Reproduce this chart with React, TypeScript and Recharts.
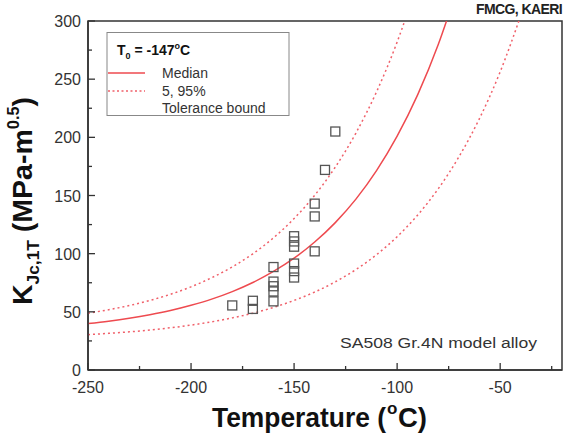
import React from "react";
import {
  ComposedChart,
  Line,
  Scatter,
  XAxis,
  YAxis,
  ReferenceArea,
  Customized,
} from "recharts";

// Master-curve lines (T in °C, K in MPa·m^0.5)
const medianTemps = [-250, -240, -230, -220, -210, -200, -190, -180, -170, -160, -150, -140, -130, -120, -110, -100, -90, -80, -70];
const medianK = [39.9, 42.0, 44.5, 47.5, 51.1, 55.6, 60.9, 67.4, 75.2, 84.7, 96.1, 110.0, 126.7, 146.9, 171.4, 201.0, 236.7, 280.0, 332.3];

const upperTemps = [-250, -240, -230, -220, -210, -200, -190, -180, -170, -160, -150, -140, -130, -120, -110, -100, -90];
const upperK = [48.8, 51.8, 55.4, 59.8, 65.1, 71.5, 79.3, 88.6, 99.9, 113.6, 130.2, 150.2, 174.4, 203.7, 239.1, 281.9, 333.7];

const lowerTemps = [-250, -240, -230, -220, -210, -200, -190, -180, -170, -160, -150, -140, -130, -120, -110, -100, -90, -80, -70, -60, -50, -40];
const lowerK = [30.4, 31.5, 32.8, 34.3, 36.3, 38.6, 41.4, 44.8, 48.8, 53.8, 59.8, 67.0, 75.8, 86.3, 99.1, 114.6, 133.3, 155.9, 183.3, 216.3, 256.3, 304.7];

// Test data points
const testTemps = [-130, -135, -140, -140, -140, -150, -150, -150, -150, -150, -150, -160, -160, -160, -160, -160, -170, -170, -180];
const testK = [205, 172, 143, 132, 102, 115, 110.5, 106, 91.5, 85, 79.5, 88.5, 76, 72, 67.5, 59, 59.5, 52.5, 55.5];

const xTicks = [-250, -225, -200, -175, -150, -125, -100, -75, -50, -25];
const xLabeled = [-250, -200, -150, -100, -50];
const yTicks = [0, 25, 50, 75, 100, 125, 150, 175, 200, 225, 250, 275, 300];
const yLabeled = [0, 50, 100, 150, 200, 250, 300];

const toPts = (ts: number[], ks: number[]) => ts.map((T, i) => ({ T, K: ks[i] }));
const medianData = toPts(medianTemps, medianK);
const upperData = toPts(upperTemps, upperK);
const lowerData = toPts(lowerTemps, lowerK);
const testData = toPts(testTemps, testK);

const FONT = "'Liberation Sans', Arial, sans-serif";
const AXIS = "#333";
const RED = "#ee4a4f";
const RED_DOT = "#f0606a";

const XTick = (props: any) => {
  const { x, y, payload } = props;
  const major = xLabeled.includes(payload.value);
  return (
    <g>
      <line x1={x} x2={x} y1={y} y2={y - (major ? 7 : 4)} stroke={AXIS} strokeWidth={1.3} />
      {major && (
        <text x={x} y={y + 23} textAnchor="middle" fontFamily={FONT} fontSize={16} fill="#333">
          {payload.value}
        </text>
      )}
    </g>
  );
};

const YTick = (props: any) => {
  const { x, y, payload } = props;
  const major = yLabeled.includes(payload.value);
  return (
    <g>
      <line x1={x} x2={x + (major ? 7 : 4)} y1={y} y2={y} stroke={AXIS} strokeWidth={1.3} />
      {major && (
        <text x={x - 7} y={y + 6} textAnchor="end" fontFamily={FONT} fontSize={16} fill="#333">
          {payload.value}
        </text>
      )}
    </g>
  );
};

const Square = (props: any) => {
  const { cx, cy } = props;
  return <rect x={cx - 4.5} y={cy - 4.5} width={9} height={9} fill="none" stroke="#555" strokeWidth={1.3} />;
};

const Annotations = () => (
  <g fontFamily={FONT}>
    {/* legend box */}
    <rect x={107} y={32.5} width={182} height={83} fill="#fff" stroke="#888" strokeWidth={1} />
    <text x={117} y={55} fontSize={14} fontWeight="bold" fill="#111">
      T<tspan fontSize={9} dy={4}>0</tspan>
      <tspan dy={-4}> = -147</tspan>
      <tspan fontSize={9} dy={-6}>o</tspan>
      <tspan dy={6}>C</tspan>
    </text>
    <line x1={108} x2={145} y1={73} y2={73} stroke={RED} strokeWidth={1.5} />
    <line x1={108} x2={145} y1={91} y2={91} stroke={RED_DOT} strokeWidth={1.5} strokeDasharray="2 2.5" />
    <text x={162} y={78} fontSize={14} fill="#333">Median</text>
    <text x={162} y={96} fontSize={14} fill="#333">5, 95%</text>
    <text x={162} y={113} fontSize={14} fill="#333">Tolerance bound</text>

    <text x={562} y={14} textAnchor="end" fontSize={14} fontWeight="bold" fill="#222" letterSpacing={-0.6}>
      FMCG, KAERI
    </text>
    <text x={340} y={348} fontSize={14} fill="#333" textLength={197} lengthAdjust="spacingAndGlyphs">
      SA508 Gr.4N model alloy
    </text>

    {/* x title */}
    <text x={212} y={427} fontSize={28} fontWeight="bold" fill="#111" textLength={174} lengthAdjust="spacingAndGlyphs">
      Temperature (
    </text>
    <text x={387} y={414} fontSize={17} fontWeight="bold" fill="#111">o</text>
    <text x={398} y={427} fontSize={28} fontWeight="bold" fill="#111" textLength={29} lengthAdjust="spacingAndGlyphs">
      C)
    </text>

    {/* y title */}
    <text
      transform="translate(32,305) rotate(-90)"
      x={0}
      y={0}
      fontSize={28}
      fontWeight="bold"
      fill="#111"
      textLength={208}
      lengthAdjust="spacingAndGlyphs"
    >
      K<tspan fontSize={17} dy={7}>Jc,1T</tspan>
      <tspan dy={-7}> (MPa-m</tspan>
      <tspan fontSize={16} dy={-13}>0.5</tspan>
      <tspan dy={13}>)</tspan>
    </text>
  </g>
);

export default function App() {
  return (
    <div style={{ position: "absolute", left: 0, top: 0, width: 574, height: 440, background: "#fff" }}>
      <ComposedChart width={574} height={440} margin={{ top: 21, right: 12, left: 0, bottom: 0 }}>
        <XAxis
          type="number"
          dataKey="T"
          domain={[-250, -20]}
          ticks={xTicks}
          interval={0}
          tick={<XTick />}
          tickLine={false}
          tickSize={0}
          tickMargin={0}
          height={70}
          axisLine={{ stroke: AXIS, strokeWidth: 1.5 }}
          allowDataOverflow
        />
        <YAxis
          type="number"
          dataKey="K"
          domain={[0, 300]}
          ticks={yTicks}
          interval={0}
          tick={<YTick />}
          tickLine={false}
          tickSize={0}
          tickMargin={0}
          width={88}
          axisLine={{ stroke: AXIS, strokeWidth: 1.5 }}
          allowDataOverflow
        />
        <ReferenceArea x1={-250} x2={-20} y1={0} y2={300} fill="none" stroke={AXIS} strokeWidth={1.5} />
        <Line data={upperData} dataKey="K" type="monotone" stroke={RED_DOT} strokeWidth={1.5} strokeDasharray="2 3" dot={false} isAnimationActive={false} />
        <Line data={lowerData} dataKey="K" type="monotone" stroke={RED_DOT} strokeWidth={1.5} strokeDasharray="2 3" dot={false} isAnimationActive={false} />
        <Line data={medianData} dataKey="K" type="monotone" stroke={RED} strokeWidth={1.5} dot={false} isAnimationActive={false} />
        <Scatter data={testData} dataKey="K" shape={<Square />} isAnimationActive={false} />
        <Customized component={Annotations} />
      </ComposedChart>
    </div>
  );
}
